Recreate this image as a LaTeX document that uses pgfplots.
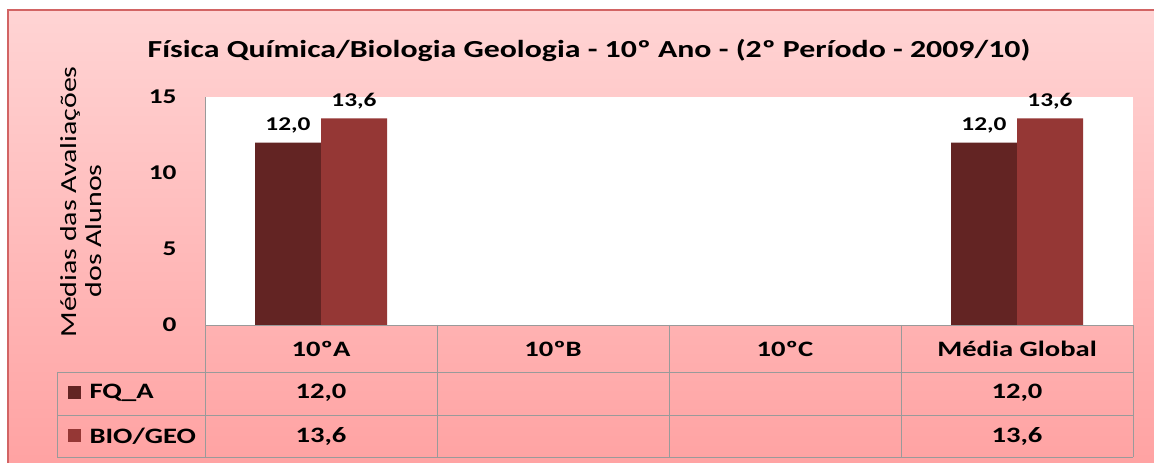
\documentclass[border=0pt]{standalone}
\usepackage{pgfplots}
\pgfplotsset{compat=1.18}
\usepackage{fontspec}
\setmainfont{Carlito}[FakeStretch=1.3]
\definecolor{fqa}{HTML}{632423}
\definecolor{bio}{HTML}{953735}
\definecolor{bgtop}{HTML}{FFD4D4}
\definecolor{bgbot}{HTML}{FFA2A2}
\definecolor{frame}{HTML}{D26464}
\definecolor{grid}{HTML}{9A9A9A}
\begin{document}
\begin{tikzpicture}[x=1pt,y=1pt]
\path[use as bounding box] (0,0) rectangle (1154,463);
\fill[white] (0,0) rectangle (1154,463);
\shade[top color=bgtop, bottom color=bgbot] (8,-5) rectangle (1160,453);
\draw[frame, line width=1.5pt] (8,-5) -- (8,453) -- (1160,453);
\node[font=\fontsize{24.5}{28}\selectfont\bfseries] at (589,413) {Física Química/Biologia Geologia - 10º Ano - (2º Período - 2009/10)};
\begin{axis}[
  at={(205pt,138pt)}, anchor=south west,
  scale only axis, width=928pt, height=228pt,
  xmin=-0.5, xmax=3.5, ymin=0, ymax=15,
  axis background/.style={fill=white},
  axis x line=none,
  axis y line*=left,
  y axis line style={grid, line width=0.8pt, -},
  ytick={0,5,10,15},
  major tick length=0pt,
  yticklabel style={font=\fontsize{21}{24}\selectfont\bfseries, xshift=-25pt},
  /pgf/number format/assume math mode=true,
  ylabel={Médias das Avaliações\\dos Alunos\hspace*{58pt}},
  ylabel style={at={(axis description cs:-0.133,0.54)}, anchor=center, align=center, font=\fontsize{23}{25}\selectfont},
  ybar, bar width=66pt,
  nodes near coords,
  every node near coord/.append style={font=\fontsize{19.5}{22}\selectfont\bfseries, yshift=6pt,
    /pgf/number format/.cd, fixed, fixed zerofill, precision=1, use comma},
  clip=false,
]
\addplot[fill=fqa, draw=none, bar shift=-33pt] coordinates {(0,12.0) (3,12.0)};
\addplot[fill=bio, draw=none, bar shift=33pt] coordinates {(0,13.6) (3,13.6)};
\end{axis}
% data table
\draw[grid, line width=0.8pt] (205,138) -- (1133,138);
\draw[grid, line width=0.8pt] (57,91) -- (1133,91);
\draw[grid, line width=0.8pt] (57,48) -- (1133,48);
\draw[grid, line width=0.8pt] (57,6) -- (1133,6);
\draw[grid, line width=0.8pt] (57,91) -- (57,6);
\foreach \xx in {205,437,669,901,1133} {\draw[grid, line width=0.8pt] (\xx,138) -- (\xx,6);}
\begin{scope}[every node/.style={font=\fontsize{22}{25}\selectfont\bfseries}]
\node at (321,114.5) {10ºA};
\node at (553,114.5) {10ºB};
\node at (785,114.5) {10ºC};
\node at (1017,114.5) {Média Global};
\fill[fqa] (68,64) rectangle (81,77);
\fill[bio] (68,21) rectangle (81,34);
\node[anchor=west] at (86,70) {FQ\_A};
\node[anchor=west] at (86,27) {BIO/GEO};
\node at (321,70) {12,0};
\node at (1017,70) {12,0};
\node at (321,27) {13,6};
\node at (1017,27) {13,6};
\end{scope}
\end{tikzpicture}
\end{document}
